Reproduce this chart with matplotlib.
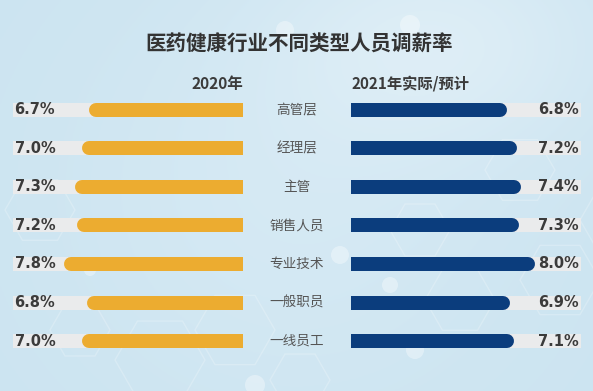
import numpy as np
import matplotlib
matplotlib.use("Agg")
import matplotlib.pyplot as plt
from matplotlib import transforms
from matplotlib.patches import RegularPolygon, Circle

plt.rcParams['font.family'] = ['Noto Sans CJK SC', 'DejaVu Sans']

# ---------------- data ----------------
categories = ["高管层", "经理层", "主管", "销售人员", "专业技术", "一般职员", "一线员工"]
values_2020 = [6.7, 7.0, 7.3, 7.2, 7.8, 6.8, 7.0]
values_2021 = [6.8, 7.2, 7.4, 7.3, 8.0, 6.9, 7.1]
title = "医药健康行业不同类型人员调薪率"
header_left = "2020年"
header_right = "2021年实际/预计"
scale_max = 10.0

W, H, DPI = 593, 391, 100
fig = plt.figure(figsize=(W / DPI, H / DPI), dpi=DPI)

# ---------------- background ----------------
bg = fig.add_axes([0, 0, 1, 1], zorder=-10)
gx = np.linspace(0, 1, 300)
gy = np.linspace(0, 1, 200)
X, Y = np.meshgrid(gx, gy)
base = np.array([0.80, 0.895, 0.945])
light = np.array([0.90, 0.95, 0.975])
t = np.clip(0.55 * np.exp(-((X - 0.75) ** 2 / 0.08 + (Y - 0.1) ** 2 / 0.08))
            + 0.35 * np.exp(-((X - 0.5) ** 2 / 0.15 + (Y - 0.5) ** 2 / 0.3)), 0, 1)
img = base[None, None, :] * (1 - t[..., None]) + light[None, None, :] * t[..., None]
bg.imshow(img, extent=[0, W, H, 0], aspect='auto')
bg.set_xlim(0, W)
bg.set_ylim(H, 0)
bg.axis('off')
# faint molecule decoration
for (cx, cy, r) in [(620, 220, 40), (560, 280, 40), (460, 300, 35), (420, 230, 30),
                    (160, 360, 45), (235, 330, 40), (80, 330, 30), (520, 170, 35),
                    (300, 380, 30), (40, 210, 35)]:
    bg.add_patch(RegularPolygon((cx, cy), 6, radius=r, orientation=np.pi / 6,
                                fill=False, ec='white', lw=1.0, alpha=0.22))
for (cx, cy, r) in [(285, 30, 9), (410, 25, 10), (340, 255, 9), (390, 285, 8),
                    (415, 350, 9), (255, 385, 10), (90, 270, 6)]:
    bg.add_patch(Circle((cx, cy), r, color='white', alpha=0.35, lw=0))

# ---------------- bar axes ----------------
row_top_px, row_bot_px = 110, 341
n = len(categories)
step = (row_bot_px - row_top_px) / (n - 1)
ax_top_px = row_top_px - step / 2
ax_bot_px = row_bot_px + step / 2
ax_h = (ax_bot_px - ax_top_px) / H
ax_b = 1 - ax_bot_px / H

left_x0, right_x0, span = 13, 351, 230
axL = fig.add_axes([left_x0 / W, ax_b, span / W, ax_h])
axR = fig.add_axes([right_x0 / W, ax_b, span / W, ax_h])

bar_px = 14
track_px = 14
lw_pt = bar_px * 72 / DPI
cap_r = (bar_px / 2) / (span / scale_max)  # data units
track_h = track_px / step

text_col = '#3b3b3b'
orange = '#ECAC30'
navy = '#0B3D7D'
track_col = '#ECECEC'

y = np.arange(n)
for ax, vals, col in [(axL, values_2020, orange), (axR, values_2021, navy)]:
    ax.set_xlim(0, scale_max)
    ax.set_ylim(n - 0.5, -0.5)
    ax.axis('off')
    ax.barh(y, [scale_max] * n, height=track_h, color=track_col, alpha=0.95, lw=0, zorder=1)
    for yi, v in zip(y, vals):
        ax.plot([-1, v - cap_r], [yi, yi], color=col, lw=lw_pt,
                solid_capstyle='round', zorder=2)
axL.invert_xaxis()

for yi, v in zip(y, values_2020):
    axL.text(scale_max - 0.07, yi, f"{v:.1f}%", ha='left', va='center',
             fontsize=10.5, fontweight='bold', color=text_col, zorder=3,
             family=['DejaVu Sans'])
for yi, v in zip(y, values_2021):
    axR.text(scale_max - 0.1, yi, f"{v:.1f}%", ha='right', va='center',
             fontsize=10.5, fontweight='bold', color=text_col, zorder=3,
             family=['DejaVu Sans'])

blend = transforms.blended_transform_factory(fig.transFigure, axL.transData)
for yi, c in zip(y, categories):
    fig.text(297 / W, yi, c, transform=blend, ha='center', va='center',
             fontsize=9.8, color='#555555')

hdr_y = -(row_top_px - 84) / step
axL.text(0, hdr_y, header_left, ha='right', va='center', fontsize=11.2,
         fontweight='bold', color=text_col, clip_on=False)
axR.text(0, hdr_y, header_right, ha='left', va='center', fontsize=11,
         fontweight='bold', color=text_col, clip_on=False)

fig.text(299 / W, 1 - 44 / H, title, ha='center', va='center', fontsize=14.8,
         fontweight='bold', color='#333333')

fig.savefig('out.png', dpi=DPI)
